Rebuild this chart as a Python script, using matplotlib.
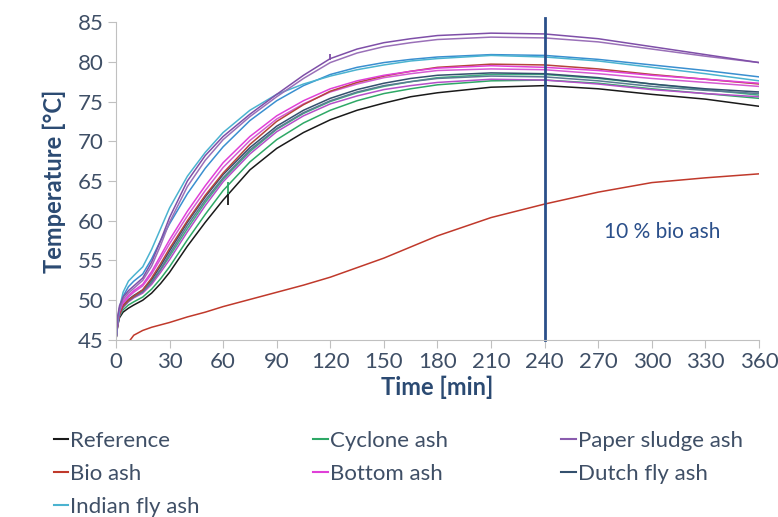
import matplotlib
matplotlib.use("Agg")
import matplotlib.pyplot as plt
from matplotlib.lines import Line2D

plt.rcParams['font.family'] = ['Lato', 'DejaVu Sans']

# time axis shared by the test curves [min]
t_min = [0, 1, 2, 4, 7, 10, 15, 20, 25, 30, 40, 50, 60, 75, 90, 105, 120, 135,
         150, 165, 180, 210, 240, 270, 300, 330, 360]

reference = [45.0, 46.8, 47.8, 48.5, 49.0, 49.4, 50.0, 50.9, 52.1, 53.5, 56.8, 59.8, 62.6,
             66.4, 69.1, 71.1, 72.7, 73.9, 74.8, 75.6, 76.1, 76.8, 77.0, 76.6, 75.9, 75.3, 74.4]
cyclone_1 = [45.0, 47.0, 48.0, 48.8, 49.4, 49.8, 50.4, 51.4, 52.7, 54.2, 57.6, 60.8, 63.8,
             67.4, 70.2, 72.3, 73.9, 75.1, 76.0, 76.6, 77.1, 77.6, 77.7, 77.3, 76.6, 76.0, 75.4]
cyclone_2 = [45.0, 47.2, 48.3, 49.2, 49.9, 50.4, 51.0, 52.2, 53.8, 55.5, 59.0, 62.3, 65.2,
             68.7, 71.5, 73.5, 75.0, 76.1, 76.9, 77.5, 78.0, 78.4, 78.4, 77.9, 77.2, 76.5, 75.8]
paper_1 = [45.0, 48.0, 49.3, 50.4, 51.2, 51.8, 52.8, 54.8, 57.5, 60.4, 65.0, 68.2, 70.6,
           73.4, 75.9, 78.3, 80.4, 81.6, 82.4, 82.9, 83.3, 83.6, 83.5, 82.9, 81.9, 80.9, 79.9]
paper_2 = [45.0, 47.8, 49.0, 50.1, 50.9, 51.5, 52.5, 54.3, 56.9, 59.8, 64.3, 67.6, 70.2,
           73.1, 75.6, 77.9, 79.9, 81.1, 81.9, 82.4, 82.8, 83.1, 83.0, 82.5, 81.6, 80.7, 79.9]
indian_1 = [45.0, 47.5, 49.0, 51.0, 52.4, 53.1, 54.2, 56.4, 59.0, 61.6, 65.6, 68.6, 71.1,
            73.9, 75.9, 77.2, 78.2, 79.0, 79.6, 80.1, 80.4, 80.8, 80.6, 80.1, 79.3, 78.5, 77.6]
indian_2 = [45.0, 47.3, 48.7, 50.5, 51.7, 52.4, 53.3, 55.2, 57.5, 59.6, 63.4, 66.6, 69.3,
            72.6, 75.1, 77.0, 78.4, 79.3, 79.9, 80.3, 80.6, 80.9, 80.8, 80.3, 79.6, 78.9, 78.1]
bio_2 = [45.0, 47.0, 48.2, 49.3, 50.0, 50.5, 51.3, 52.8, 54.6, 56.5, 60.0, 63.2, 66.0,
         69.6, 72.5, 74.6, 76.3, 77.4, 78.2, 78.8, 79.3, 79.7, 79.6, 79.1, 78.4, 77.8, 77.2]
bottom_1 = [45.0, 47.2, 48.6, 49.8, 50.6, 51.2, 52.0, 53.6, 55.6, 57.6, 61.2, 64.4, 67.3,
            70.6, 73.2, 75.1, 76.6, 77.6, 78.3, 78.8, 79.2, 79.5, 79.3, 78.9, 78.3, 77.8, 77.3]
bottom_2 = [45.0, 47.1, 48.4, 49.6, 50.4, 51.0, 51.8, 53.3, 55.2, 57.1, 60.6, 63.8, 66.7,
            70.1, 72.8, 74.7, 76.2, 77.2, 78.0, 78.5, 78.9, 79.1, 79.0, 78.5, 77.9, 77.4, 76.9]
bottom_3 = [45.0, 47.0, 48.1, 49.1, 49.8, 50.3, 50.9, 52.0, 53.5, 55.1, 58.6, 61.9, 64.9,
            68.4, 71.2, 73.2, 74.7, 75.7, 76.5, 77.0, 77.4, 77.8, 77.7, 77.2, 76.5, 76.0, 75.6]
dutch_1 = [45.0, 47.1, 48.3, 49.4, 50.1, 50.6, 51.3, 52.6, 54.3, 56.2, 59.8, 63.0, 65.8,
           69.2, 71.9, 73.9, 75.4, 76.5, 77.3, 77.9, 78.3, 78.6, 78.5, 78.0, 77.2, 76.6, 76.2]
dutch_2 = [45.0, 47.0, 48.2, 49.2, 49.9, 50.4, 51.1, 52.3, 53.9, 55.8, 59.4, 62.6, 65.4,
           68.9, 71.6, 73.6, 75.1, 76.2, 77.0, 77.5, 77.9, 78.2, 78.1, 77.6, 76.9, 76.4, 76.0]

# 10 % bio ash has its own time base (starts late)
t_bio10 = [8, 10, 15, 20, 25, 30, 40, 50, 60, 75, 90, 105, 120, 150, 180, 210,
           240, 270, 300, 330, 360]
bio_10 = [45.0, 45.6, 46.2, 46.6, 46.9, 47.2, 47.9, 48.5, 49.2, 50.1, 51.0, 51.9, 52.9,
          55.3, 58.1, 60.4, 62.1, 63.6, 64.8, 65.4, 65.9]

# short measurement glitches
spike_t = [62.8, 62.5, 120]
spike_lo = [62.0, 63.4, 80.2]
spike_hi = [63.6, 64.9, 81.0]
spike_col = ['#1a1a1a', '#2ea866', '#7f4fa8']

c_ref = '#1a1a1a'
c_cyc = '#2ea866'
c_pap = '#8a5cae'
c_bio = '#c0392b'
c_bot = '#e040d8'
c_dut = '#34506e'
c_ind = '#4bb3d0'

curves = [
    (reference, c_ref), (cyclone_1, c_cyc), (cyclone_2, '#3fae80'),
    (bottom_3, '#b44fc8'), (dutch_2, '#5a7a92'), (dutch_1, c_dut),
    (bottom_2, '#d55ad2'), (bio_2, '#b5453a'), (bottom_1, c_bot),
    (indian_2, '#3a8fd0'), (indian_1, c_ind), (paper_2, '#9a70b8'), (paper_1, '#7f4fa8'),
]

fig = plt.figure(figsize=(7.78, 5.17), dpi=100)
ax = fig.add_axes([0.149, 0.3424, 0.8266, 0.615])

for vals, col in curves:
    ax.plot(t_min, vals, color=col, lw=1.1)
ax.plot(t_bio10, bio_10, color=c_bio, lw=1.1)
ax.vlines(spike_t, spike_lo, spike_hi, colors=spike_col, lw=1.3)

ax.plot([240, 240], [45, 85.5], color='#2a4f8a', lw=2, clip_on=False)
ax.text(306, 58.6, '10 % bio ash', color='#2a4f8a', fontsize=15,
        ha='center', va='center')

ax.set_xlim(0, 360)
ax.set_ylim(45, 85)
ax.set_xticks(range(0, 361, 30))
ax.set_yticks(range(45, 86, 5))
for s in ['top', 'right']:
    ax.spines[s].set_visible(False)
for s in ['left', 'bottom']:
    ax.spines[s].set_color('#c0c0c0')
ax.tick_params(direction='out', length=6, color='#c0c0c0', labelsize=16,
               labelcolor='#3f4f66', pad=3)
ax.set_xlabel('Time [min]', fontsize=17, fontweight='bold', color='#2b4a72', labelpad=2)
ax.set_ylabel('Temperature [°C]', fontsize=17, fontweight='bold', color='#2b4a72', labelpad=8)

# legend, column-wise order so rows read like the original
names = ['Reference', 'Bio ash', 'Indian fly ash', 'Cyclone ash', 'Bottom ash',
         'Paper sludge ash', 'Dutch fly ash']
cols = [c_ref, c_bio, c_ind, c_cyc, c_bot, c_pap, c_dut]
handles = [Line2D([], [], color=c, lw=1.5) for c in cols]
leg = fig.legend(handles, names, loc='upper left', bbox_to_anchor=(0.069, 0.166),
                 ncol=3, frameon=False, fontsize=16, handlelength=0.65,
                 handletextpad=0.1, labelspacing=0.57, columnspacing=5.1,
                 borderaxespad=0, borderpad=0)
for txt in leg.get_texts():
    txt.set_color('#3f4f66')

fig.savefig('out.png', dpi=100)
